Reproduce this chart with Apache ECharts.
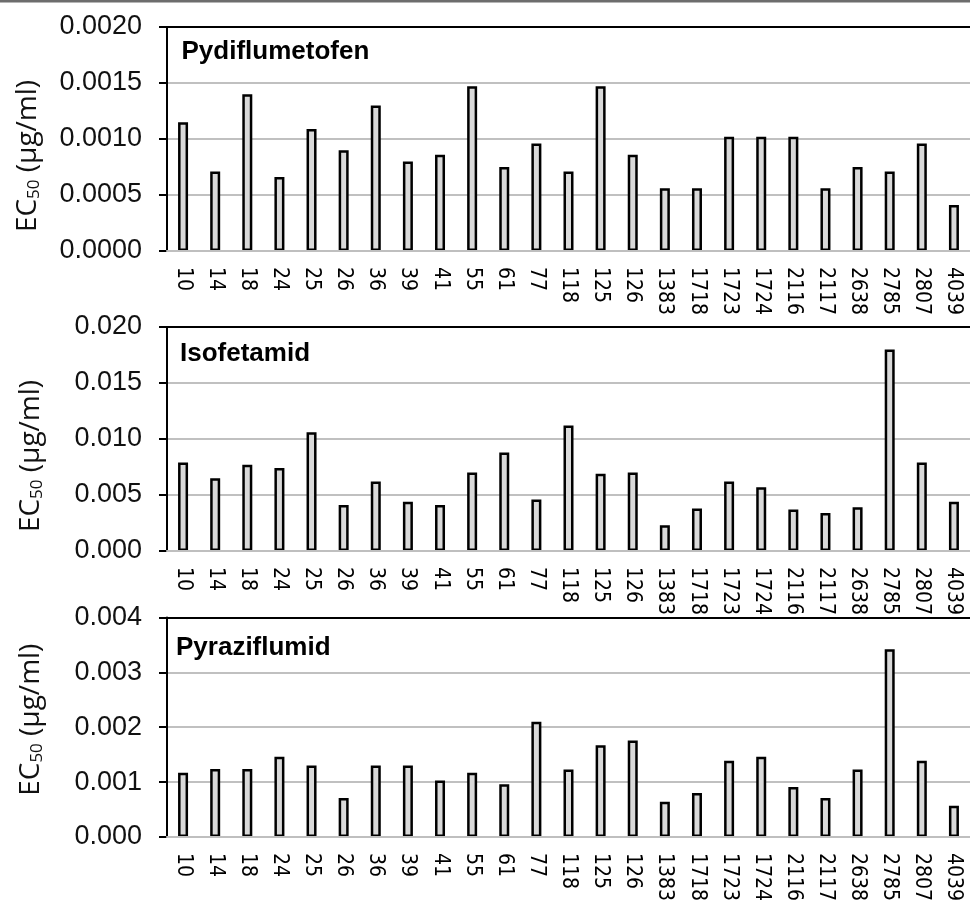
<!DOCTYPE html>
<html>
<head>
<meta charset="utf-8">
<script src="https://cdn.jsdelivr.net/npm/echarts@6/dist/echarts.min.js"></script>
<style>
  html, body { margin: 0; padding: 0; background: #fff; }
  #chart { width: 970px; height: 904px; }
</style>
</head>
<body>
<div id="chart"></div>
<script>
// ---- data ----
const categories = ['10','14','18','24','25','26','36','39','41','55','61','77','118','125','126','1383','1718','1723','1724','2116','2117','2638','2785','2807','4039'];
const pydiflumetofen = [0.00115,0.00071,0.00140,0.00066,0.00109,0.00090,0.00130,0.00080,0.00086,0.00147,0.00075,0.00096,0.00071,0.00147,0.00086,0.00056,0.00056,0.00102,0.00102,0.00102,0.00056,0.00075,0.00071,0.00096,0.00041];
const isofetamid = [0.0079,0.0065,0.0077,0.0074,0.0106,0.0041,0.0062,0.0044,0.0041,0.0070,0.0088,0.0046,0.0112,0.0069,0.0070,0.0023,0.0038,0.0062,0.0057,0.0037,0.0034,0.0039,0.0180,0.0079,0.0044];
const pyraziflumid = [0.00117,0.00124,0.00124,0.00146,0.00130,0.00071,0.00130,0.00130,0.00103,0.00117,0.00096,0.00210,0.00123,0.00167,0.00176,0.00064,0.00080,0.00139,0.00146,0.00091,0.00071,0.00123,0.00342,0.00139,0.00057];
const panelNames = ['Pydiflumetofen', 'Isofetamid', 'Pyraziflumid'];
const panelValues = [pydiflumetofen, isofetamid, pyraziflumid];
const yMax = [0.0020, 0.020, 0.004];
const yStep = [0.0005, 0.005, 0.001];
const yDecimals = [4, 3, 3];
const yAxisTitle = 'EC{s|50} (µg/ml)';

// ---- layout ----
const gridTops = [27, 327, 617.5];
const plotHeight = 224;
const titlePos = [[181.5, 39], [180, 340.5], [176, 635]];
const nameGaps = [124.5, 121.5, 121.5];
const namePads = [[0, 34, 0, 0], [0, 34, 0, 0], [0, 0, 0, 15]];

const chart = echarts.init(document.getElementById('chart'), null, { renderer: 'canvas' });

const grids = [], xAxes = [], yAxes = [], series = [], titles = [];
for (let i = 0; i < 3; i++) {
  grids.push({ left: 167, top: gridTops[i], width: 804, height: plotHeight, containLabel: false });
  xAxes.push({
    type: 'category', gridIndex: i, data: categories, position: 'bottom', z: 3,
    axisLine: { show: true, lineStyle: { color: '#bfbfbf', width: 2 } },
    axisTick: { show: false },
    axisLabel: {
      interval: 0, rotate: -90, margin: 16, color: '#000',
      fontFamily: 'DejaVu Sans Condensed, DejaVu Sans', fontSize: 21
    },
    splitLine: { show: false }
  });
  xAxes.push({
    type: 'category', gridIndex: i, data: categories, position: 'top', z: 3,
    axisLine: { show: true, lineStyle: { color: '#000', width: 2 } },
    axisTick: { show: false }, axisLabel: { show: false }, splitLine: { show: false }
  });
  const dec = yDecimals[i];
  yAxes.push({
    type: 'value', gridIndex: i, min: 0, max: yMax[i], interval: yStep[i],
    axisLine: { show: true, lineStyle: { color: '#000', width: 2 } },
    axisTick: { show: true, inside: false, length: 8, lineStyle: { color: '#000', width: 2 } },
    axisLabel: {
      margin: 25, color: '#111', fontFamily: 'Liberation Sans, Arial', fontSize: 27,
      formatter: v => v.toFixed(dec)
    },
    splitLine: { show: true, lineStyle: { color: '#c0c0c0', width: 2 } },
    name: yAxisTitle, nameLocation: 'middle', nameGap: nameGaps[i], nameRotate: 90,
    nameTextStyle: {
      fontFamily: 'Open Sans', fontSize: 28, color: '#111', padding: namePads[i],
      rich: { s: { fontFamily: 'Open Sans', fontSize: 17, color: '#111', verticalAlign: 'bottom' } }
    }
  });
  series.push({
    type: 'bar', xAxisIndex: i * 2, yAxisIndex: i, data: panelValues[i],
    barWidth: 10, z: 2,
    itemStyle: { color: '#d9d9d9', borderColor: '#000', borderWidth: 2.5 },
    emphasis: { disabled: true }, animation: false
  });
  titles.push({
    text: panelNames[i], left: titlePos[i][0], top: titlePos[i][1], padding: 0,
    textStyle: { fontFamily: 'Liberation Sans, Arial', fontWeight: 'bold', fontSize: 26, color: '#000' }
  });
}

chart.setOption({
  animation: false,
  backgroundColor: '#fff',
  title: titles,
  grid: grids,
  xAxis: xAxes,
  yAxis: yAxes,
  series: series,
  graphic: [{ type: 'rect', shape: { x: 0, y: 0, width: 970, height: 2.5 }, style: { fill: '#6d6d6d' }, z: 10 }]
});
</script>
</body>
</html>
